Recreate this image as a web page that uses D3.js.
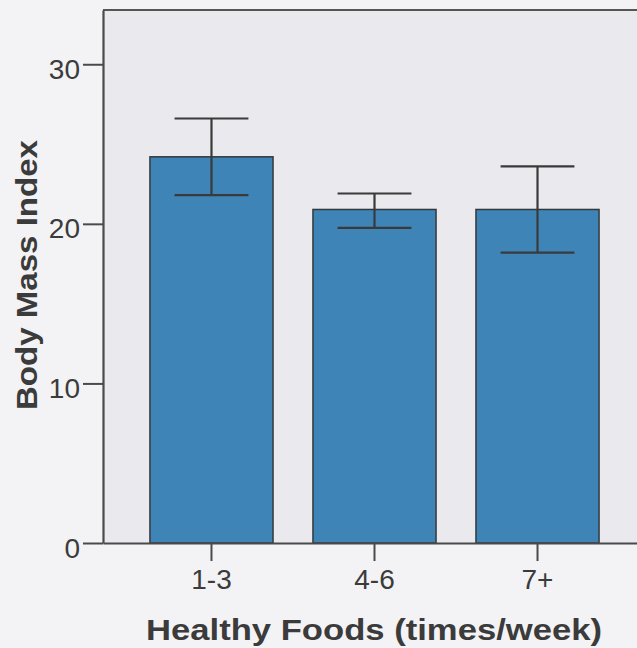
<!DOCTYPE html>
<html>
<head>
<meta charset="utf-8">
<script src="https://cdn.jsdelivr.net/npm/d3@7"></script>
<style>
  body { margin: 0; background: #f3f3f6; }
  svg { display: block; }
  text { font-family: "Liberation Sans", Arial, sans-serif; fill: #3b3b3b; }
</style>
</head>
<body>
<div id="chart"></div>
<script>
var margin = {top: 10, right: -9, bottom: 105, left: 103},
    W = 637, H = 648,
    width = W - margin.left - margin.right,
    height = H - margin.top - margin.bottom;

// values
var categories = ["1-3", "4-6", "7+"];
var means = [24.2, 20.9, 20.9];
var errLow = [21.8, 19.75, 18.2];
var errHigh = [26.6, 21.9, 23.6];
var yTicks = [0, 10, 20, 30];

var svg = d3.select("#chart").append("svg")
    .attr("width", W).attr("height", H);

var g = svg.append("g")
    .attr("transform", "translate(" + margin.left + "," + margin.top + ")");

var x = d3.scaleBand()
    .domain(categories)
    .range([0, width])
    .paddingInner(0.245)
    .paddingOuter(0.288);

var y = d3.scaleLinear()
    .domain([0, 33.4])
    .range([height, 0]);

/* plot background */
g.append("rect")
    .attr("width", width).attr("height", height)
    .attr("fill", "#e9e9ee");

/* bars */
var data = categories.map(function(c, i) {
  return {cat: c, mean: means[i], lo: errLow[i], hi: errHigh[i]};
});

g.selectAll(".bar").data(data).enter().append("rect")
    .attr("class", "bar")
    .attr("x", function(d) { return x(d.cat); })
    .attr("y", function(d) { return y(d.mean); })
    .attr("width", x.bandwidth())
    .attr("height", function(d) { return height - y(d.mean); })
    .attr("fill", "#3f84b6")
    .attr("stroke", "#34383c")
    .attr("stroke-width", 1.5);

/* error bars */
var capW = x.bandwidth() * 0.3;
var err = g.selectAll(".err").data(data).enter().append("g")
    .attr("class", "err")
    .attr("stroke", "#3a3a3a")
    .attr("stroke-width", 2.2);

err.append("line")
    .attr("x1", function(d) { return x(d.cat) + x.bandwidth() / 2; })
    .attr("x2", function(d) { return x(d.cat) + x.bandwidth() / 2; })
    .attr("y1", function(d) { return y(d.lo); })
    .attr("y2", function(d) { return y(d.hi); });
err.append("line")
    .attr("x1", function(d) { return x(d.cat) + x.bandwidth() / 2 - capW; })
    .attr("x2", function(d) { return x(d.cat) + x.bandwidth() / 2 + capW; })
    .attr("y1", function(d) { return y(d.hi); })
    .attr("y2", function(d) { return y(d.hi); });
err.append("line")
    .attr("x1", function(d) { return x(d.cat) + x.bandwidth() / 2 - capW; })
    .attr("x2", function(d) { return x(d.cat) + x.bandwidth() / 2 + capW; })
    .attr("y1", function(d) { return y(d.lo); })
    .attr("y2", function(d) { return y(d.lo); });

/* top frame line */
g.append("line")
    .attr("x1", 0).attr("x2", width)
    .attr("y1", 0).attr("y2", 0)
    .attr("stroke", "#555").attr("stroke-width", 2);

/* axes */
var yAxis = g.append("g")
    .call(d3.axisLeft(y).tickValues(yTicks).tickSize(20).tickPadding(3).tickSizeOuter(0));
var xAxis = g.append("g")
    .attr("transform", "translate(0," + height + ")")
    .call(d3.axisBottom(x).tickSize(18).tickPadding(8).tickSizeOuter(0));

[yAxis, xAxis].forEach(function(a) {
  a.select(".domain").attr("stroke", "#4a4a4a").attr("stroke-width", 2.2);
  a.selectAll(".tick line").attr("stroke", "#4a4a4a").attr("stroke-width", 2);
  a.selectAll(".tick text")
      .style("font-family", "'Liberation Sans', Arial, sans-serif")
      .style("font-size", "28px")
      .attr("fill", "#3b3b3b");
});
yAxis.selectAll(".tick text").attr("dy", "0.5em");

/* axis titles */
svg.append("text")
    .attr("x", 374).attr("y", 640)
    .attr("text-anchor", "middle")
    .attr("textLength", 456)
    .attr("lengthAdjust", "spacingAndGlyphs")
    .style("font-size", "30px").style("font-weight", "bold")
    .text("Healthy Foods (times/week)");

svg.append("text")
    .attr("transform", "translate(37,275) rotate(-90)")
    .attr("text-anchor", "middle")
    .attr("textLength", 270)
    .attr("lengthAdjust", "spacingAndGlyphs")
    .style("font-size", "30px").style("font-weight", "bold")
    .text("Body Mass Index");
</script>
</body>
</html>
